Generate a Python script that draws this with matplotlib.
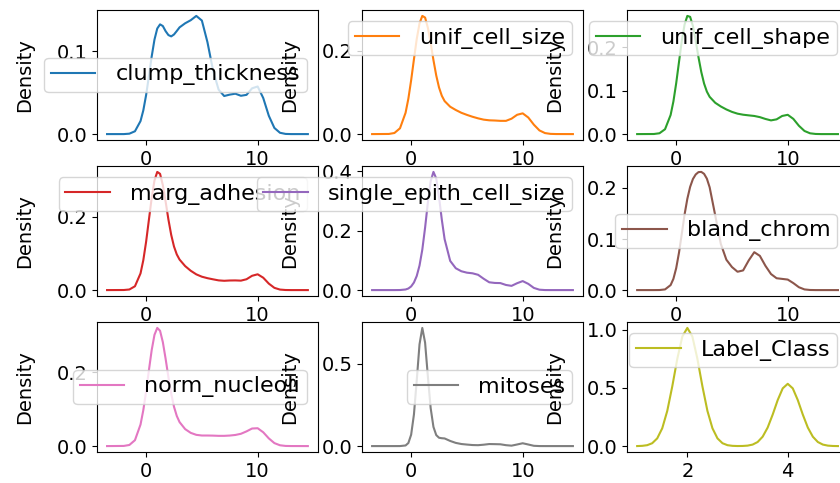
import matplotlib
matplotlib.use("Agg")
import matplotlib.pyplot as plt

x_grid = [-3.5, -2, -1.5, -1, -0.5, -0.25, 0, 0.25, 0.5, 0.75, 1, 1.25, 1.5, 1.75, 2,
          2.25, 2.5, 2.75, 3, 3.5, 4, 4.5, 5, 5.5, 6, 6.5, 7, 7.5, 8, 8.5, 9, 9.5, 10,
          10.5, 11, 11.5, 12, 12.5, 13, 14.5]

clump_thickness = [0, 0, 0.0005, 0.0034, 0.0157, 0.0286, 0.047, 0.0696, 0.0935, 0.1139,
                   0.1273, 0.1323, 0.1303, 0.1241, 0.1194, 0.1178, 0.1201, 0.1243, 0.1287,
                   0.1336, 0.1373, 0.1425, 0.1369, 0.1108, 0.0768, 0.0536, 0.0459, 0.0476,
                   0.0487, 0.0462, 0.0473, 0.0552, 0.0574, 0.0435, 0.0221, 0.0074, 0.0016,
                   0.0002, 0, 0]
unif_cell_size = [0, 0.0003, 0.0026, 0.0139, 0.051, 0.0847, 0.129, 0.179, 0.2275, 0.265,
                  0.283, 0.279, 0.2545, 0.218, 0.177, 0.1403, 0.1115, 0.0917, 0.079, 0.0655,
                  0.0577, 0.051, 0.046, 0.0415, 0.0377, 0.0346, 0.033, 0.0325, 0.0317,
                  0.0317, 0.0369, 0.0462, 0.0497, 0.0397, 0.0225, 0.0088, 0.0024, 0.0005,
                  0.0001, 0]
unif_cell_shape = [0, 0.0002, 0.0019, 0.0112, 0.044, 0.0753, 0.1173, 0.166, 0.2146, 0.2526,
                   0.2726, 0.2704, 0.2491, 0.2154, 0.1771, 0.1432, 0.1166, 0.098, 0.0859,
                   0.0722, 0.0637, 0.0568, 0.0512, 0.0471, 0.0447, 0.0432, 0.0418, 0.0391,
                   0.0349, 0.0316, 0.034, 0.0418, 0.0445, 0.0351, 0.0192, 0.0072, 0.0018,
                   0.0003, 0, 0]
marg_adhesion = [0, 0.0002, 0.0016, 0.0104, 0.0454, 0.0814, 0.1313, 0.1911, 0.2509, 0.2983,
                 0.3216, 0.3164, 0.2858, 0.2408, 0.1921, 0.1503, 0.1186, 0.0971, 0.083,
                 0.0653, 0.0526, 0.0428, 0.0364, 0.0324, 0.0293, 0.0264, 0.0253, 0.0261,
                 0.0263, 0.0257, 0.0295, 0.0389, 0.043, 0.0337, 0.0176, 0.0061, 0.0014,
                 0.0002, 0, 0]
single_epith_cell_size = [0, 0, 0, 0.0002, 0.002, 0.0053, 0.0123, 0.0254, 0.0473, 0.0824,
                          0.1358, 0.2096, 0.2944, 0.3662, 0.3971, 0.375, 0.3123, 0.2364,
                          0.1711, 0.0981, 0.0734, 0.0633, 0.0585, 0.0564, 0.0514, 0.0381,
                          0.0262, 0.024, 0.0235, 0.0172, 0.0142, 0.0231, 0.0302, 0.0209,
                          0.0073, 0.0013, 0.0001, 0, 0, 0]
bland_chrom = [0, 0, 0.0001, 0.0013, 0.0098, 0.022, 0.0429, 0.0731, 0.1099, 0.1478, 0.1788,
               0.2021, 0.2175, 0.2264, 0.231, 0.2314, 0.2276, 0.2182, 0.2012, 0.1462, 0.0905,
               0.0594, 0.0451, 0.0359, 0.0385, 0.058, 0.0742, 0.067, 0.0475, 0.0314, 0.0232,
               0.0219, 0.0206, 0.0137, 0.0056, 0.0013, 0.0002, 0, 0, 0]
norm_nucleoli = [0, 0.0004, 0.003, 0.016, 0.0585, 0.0976, 0.1483, 0.2055, 0.2604, 0.302,
                 0.3209, 0.3132, 0.2823, 0.2369, 0.1873, 0.1422, 0.1069, 0.0818, 0.0651,
                 0.0461, 0.0359, 0.0305, 0.0287, 0.0287, 0.0284, 0.0278, 0.0278, 0.0286,
                 0.0302, 0.0334, 0.0399, 0.0477, 0.0485, 0.0375, 0.0209, 0.0081, 0.0022,
                 0.0004, 0.0001, 0]
mitoses = [0, 0, 0, 0.0001, 0.0037, 0.0186, 0.0692, 0.192, 0.3985, 0.6183, 0.7184, 0.6288,
           0.4226, 0.2304, 0.1163, 0.0668, 0.0506, 0.0478, 0.0464, 0.0312, 0.0194, 0.0126,
           0.0092, 0.0063, 0.0055, 0.0084, 0.0124, 0.0118, 0.0109, 0.0055, 0.0026, 0.0097,
           0.0172, 0.0096, 0.0017, 0.0001, 0, 0, 0, 0]

#Label_Class only takes values 2 and 4, so it has its own x grid
label_x = [1.0, 1.1, 1.2, 1.3, 1.4, 1.5, 1.6, 1.7, 1.8, 1.9, 2.0, 2.1, 2.2, 2.3, 2.4, 2.5,
           2.6, 2.7, 2.8, 2.9, 3.0, 3.1, 3.2, 3.3, 3.4, 3.5, 3.6, 3.7, 3.8, 3.9, 4.0, 4.1,
           4.2, 4.3, 4.4, 4.5, 4.6, 4.7, 4.8, 4.9, 5.0]
label_class = [0.0005, 0.0023, 0.008, 0.0249, 0.0666, 0.1533, 0.3025, 0.5136, 0.75, 0.941,
               1.015, 0.941, 0.75, 0.5136, 0.3025, 0.1533, 0.0666, 0.0249, 0.008, 0.0023,
               0.0008, 0.0013, 0.0042, 0.0131, 0.0351, 0.0808, 0.1594, 0.2707, 0.3954, 0.496,
               0.535, 0.496, 0.3954, 0.2707, 0.1594, 0.0808, 0.0351, 0.0131, 0.0042, 0.0012,
               0.0003]

columns = ["clump_thickness", "unif_cell_size", "unif_cell_shape", "marg_adhesion",
           "single_epith_cell_size", "bland_chrom", "norm_nucleoli", "mitoses", "Label_Class"]
series = [clump_thickness, unif_cell_size, unif_cell_shape, marg_adhesion,
          single_epith_cell_size, bland_chrom, norm_nucleoli, mitoses, label_class]
legend_locs = ["center right", "upper right", "upper right", "upper right", "upper right",
               "center right", "center right", "center right", "upper right"]

#3x3 grid of density subplots, one per column
fig, axes = plt.subplots(3, 3, figsize=(8.4, 4.83), dpi=100)
fig.subplots_adjust(left=0.1155, right=1.0095, bottom=0.0642, top=0.9793,
                    wspace=0.2, hspace=0.2)

for i, ax in enumerate(axes.flat):
    x = label_x if columns[i] == "Label_Class" else x_grid
    ax.plot(x, series[i], color="C%d" % i, label=columns[i])
    ax.set_ylabel("Density", fontsize=14, labelpad=16)
    ax.tick_params(labelsize=14)
    ax.legend(loc=legend_locs[i], fontsize=16, borderpad=0.3, handletextpad=0.9)

plt.savefig("out.png")
